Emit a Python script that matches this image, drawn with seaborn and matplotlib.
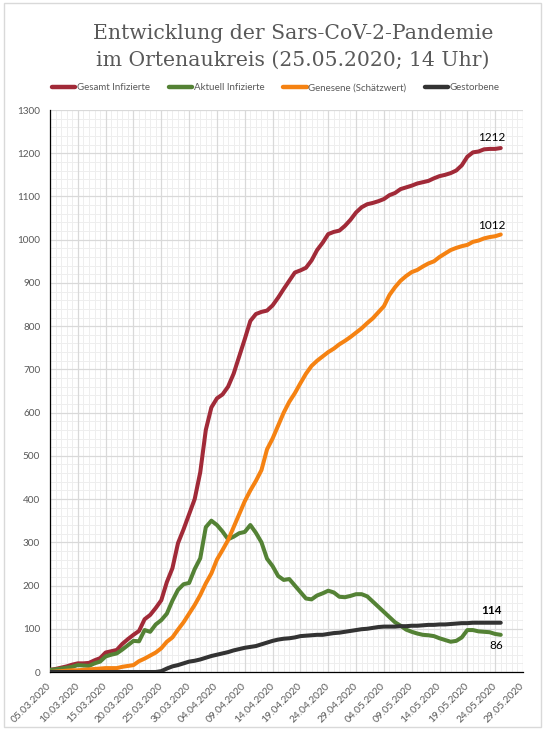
import matplotlib
matplotlib.use("Agg")
import matplotlib.pyplot as plt
import matplotlib.dates as mdates
from matplotlib.lines import Line2D
from matplotlib.patches import Rectangle
from matplotlib.ticker import MultipleLocator
import numpy as np
import pandas as pd
import seaborn as sns

# ---------------- data ----------------
start_date = "2020-03-05"
n_days = 82  # 05.03.2020 .. 25.05.2020

gesamt = [5, 7, 10, 13, 17, 20, 20, 21, 27, 32,
          45, 48, 51, 65, 76, 86, 95, 122, 132, 148,
          166, 208, 240, 298, 330, 365, 400, 462, 560, 612,
          633, 642, 660, 690, 730, 770, 812, 828, 833, 836,
          848, 866, 886, 905, 924, 929, 935, 952, 976, 993,
          1013, 1018, 1021, 1032, 1046, 1063, 1075, 1082, 1085, 1089,
          1094, 1103, 1108, 1117, 1121, 1125, 1130, 1133, 1136, 1142,
          1147, 1150, 1154, 1160, 1172, 1192, 1202, 1204, 1209, 1210,
          1210, 1212]

aktuell = [5, 6, 8, 10, 12, 16, 15, 14, 20, 24,
           36, 40, 43, 52, 62, 72, 71, 97, 93, 110,
           120, 135, 165, 190, 203, 206, 238, 263, 335, 350,
           340, 325, 307, 313, 321, 324, 340, 322, 300, 262,
           245, 222, 213, 215, 200, 185, 170, 168, 177, 182,
           188, 184, 174, 173, 176, 180, 180, 175, 163, 151,
           139, 127, 115, 107, 98, 93, 89, 86, 85, 83,
           78, 74, 70, 72, 80, 97, 97, 94, 93, 92,
           88, 86]

genesene = [0, 1, 2, 3, 4, 4, 5, 6, 7, 8,
            9, 9, 9, 12, 14, 16, 25, 31, 38, 45,
            55, 70, 80, 98, 115, 135, 155, 178, 205, 228,
            260, 282, 305, 335, 365, 395, 420, 442, 467, 515,
            540, 570, 600, 625, 645, 668, 690, 708, 720, 730,
            740, 748, 758, 766, 775, 785, 795, 807, 818, 832,
            846, 872, 890, 905, 916, 925, 930, 938, 945, 950,
            960, 968, 976, 981, 985, 988, 995, 998, 1003, 1006,
            1008, 1012]

gestorbene = [0, 0, 0, 0, 0, 0, 0, 0, 0, 0,
              0, 0, 0, 0, 0, 0, 0, 0, 0, 0,
              2, 8, 13, 16, 20, 24, 26, 29, 33, 37,
              40, 43, 46, 50, 53, 56, 58, 60, 64, 68,
              72, 75, 77, 78, 80, 83, 84, 85, 86, 86,
              88, 90, 91, 93, 95, 97, 99, 100, 102, 104,
              105, 105, 105, 106, 106, 107, 107, 108, 109, 109,
              110, 110, 111, 112, 113, 113, 114, 114, 114, 114,
              114, 114]

series_names = ["Gesamt Infizierte", "Aktuell Infizierte",
                "Genesene (Schätzwert)", "Gestorbene"]
series_colors = ["#A12A38", "#548235", "#F58212", "#333333"]

x_tick_labels = ["05.03.2020", "10.03.2020", "15.03.2020", "20.03.2020",
                 "25.03.2020", "30.03.2020", "04.04.2020", "09.04.2020",
                 "14.04.2020", "19.04.2020", "24.04.2020", "29.04.2020",
                 "04.05.2020", "09.05.2020", "14.05.2020", "19.05.2020",
                 "24.05.2020", "29.05.2020"]
y_ticks = [0, 100, 200, 300, 400, 500, 600, 700, 800, 900,
           1000, 1100, 1200, 1300]

title_text = "Entwicklung der Sars-CoV-2-Pandemie\nim Ortenaukreis (25.05.2020; 14 Uhr)"

# ---------------- build table ----------------
dates = pd.date_range(start_date, periods=n_days, freq="D")
df = pd.concat([
    pd.DataFrame({"Datum": dates, "Wert": vals, "Reihe": name})
    for name, vals in zip(series_names, [gesamt, aktuell, genesene, gestorbene])
], ignore_index=True)

# ---------------- style ----------------
sns.set_theme(style="white")
plt.rcParams["font.family"] = ["Lato", "DejaVu Sans"]
text_gray = "#595959"

fig = plt.figure(figsize=(5.52, 7.32), dpi=100)
W, H = 552, 732
ax = fig.add_axes([50 / W, 1 - 672 / H, (523 - 50) / W, (672 - 110) / H])

# outer chart border
fig.patches.append(Rectangle((4 / W, 1 - 727 / H), (541 - 4) / W, (727 - 3) / H,
                             transform=fig.transFigure, fill=False,
                             edgecolor="#D9D9D9", linewidth=1.0, zorder=0))

sns.lineplot(data=df, x="Datum", y="Wert", hue="Reihe",
             hue_order=series_names, palette=series_colors,
             linewidth=2.9, legend=False, ax=ax, zorder=5)
for ln in ax.lines:
    ln.set_solid_capstyle("round")
    ln.set_solid_joinstyle("round")

x_start = pd.Timestamp(start_date)
x_end = pd.Timestamp("2020-05-29")
ax.set_xlim(x_start, x_end)
ax.set_ylim(0, 1300)

tick_dates = pd.to_datetime(x_tick_labels, format="%d.%m.%Y")
ax.set_xticks(tick_dates)
ax.set_xticklabels(x_tick_labels, rotation=45, ha="right", va="center",
                   rotation_mode="anchor", fontsize=7.4, color=text_gray)
ax.xaxis.set_minor_locator(mdates.DayLocator())
ax.set_yticks(y_ticks)
ax.set_yticklabels([str(v) for v in y_ticks], fontsize=7.2, color=text_gray)
ax.yaxis.set_minor_locator(MultipleLocator(10))

# grids
ax.grid(True, which="major", color="#D9D9D9", linewidth=0.9, zorder=0)
for v in np.arange(0, 1301, 20):
    if v % 100:
        ax.axhline(v, color="#EEEEEE", linewidth=0.7, zorder=0.5)
ax.grid(True, which="minor", axis="x", color="#EEEEEE", linewidth=0.7, zorder=0.5)
ax.set_axisbelow(True)

for s in ["top", "right"]:
    ax.spines[s].set_visible(False)
for s in ["left", "bottom"]:
    ax.spines[s].set_color("#000000")
    ax.spines[s].set_linewidth(0.9)

ax.tick_params(axis="y", which="major", direction="out", length=4, width=0.9,
               color="#000000", pad=3)
ax.tick_params(axis="y", which="minor", direction="inout", length=3, width=0.6,
               color="#000000")
ax.tick_params(axis="x", which="major", direction="inout", length=6, width=0.9,
               color="#000000", pad=6)
ax.tick_params(axis="x", which="minor", direction="in", length=3, width=0.6,
               color="#000000")
ax.set_xlabel("")
ax.set_ylabel("")
ax.set_facecolor("white")

# end labels
last = dates[-1]
ax.annotate(str(gesamt[-1]), xy=(last, gesamt[-1]), xytext=(-6.5, 7.5),
            textcoords="offset points", ha="center", va="center",
            fontsize=8.5, color="#000000")
ax.annotate(str(genesene[-1]), xy=(last, genesene[-1]), xytext=(-6.5, 6.5),
            textcoords="offset points", ha="center", va="center",
            fontsize=8.5, color="#000000")
ax.annotate(str(gestorbene[-1]), xy=(last, gestorbene[-1]), xytext=(-7, 8.5),
            textcoords="offset points", ha="center", va="center",
            fontsize=8.5, fontweight="bold", color="#000000")
ax.annotate(str(aktuell[-1]), xy=(last, aktuell[-1]), xytext=(-3, -7.5),
            textcoords="offset points", ha="center", va="center",
            fontsize=8.5, color="#000000")

# title
fig.text(293 / W, 1 - 47 / H, title_text, ha="center", va="center",
         fontsize=14.7, family=["DejaVu Serif"], color=text_gray,
         linespacing=1.5)

# legend
handles = [Line2D([0], [0], color=c, linewidth=3.2) for c in series_colors]
fig.legend(handles, series_names, loc="center", bbox_to_anchor=(276 / W, 1 - 88 / H),
           ncol=4, frameon=False, fontsize=7.0, handlelength=2.4,
           handletextpad=0.15, columnspacing=1.95, labelcolor=text_gray,
           borderaxespad=0)

fig.savefig("out.png", dpi=100, facecolor="white")
